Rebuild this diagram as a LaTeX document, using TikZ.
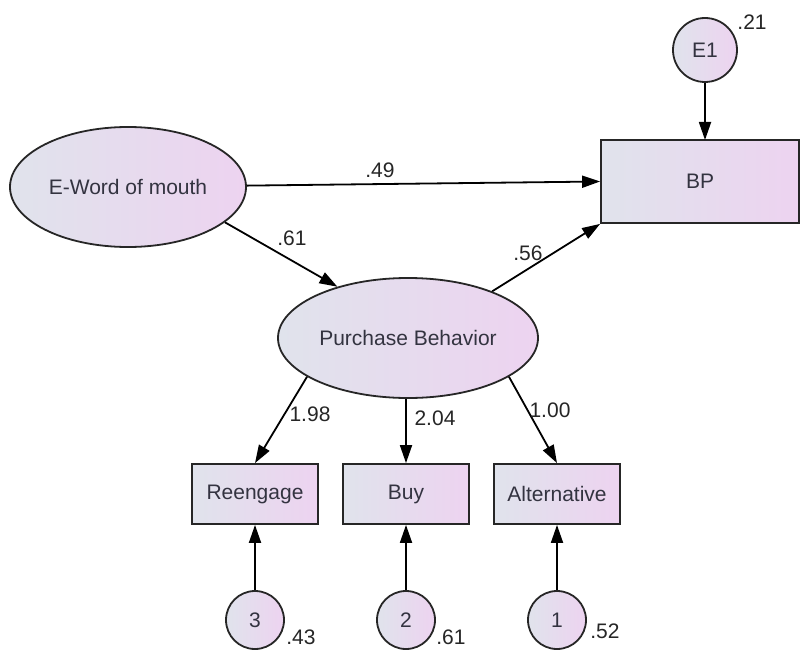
\documentclass[tikz,border=0pt]{standalone}
\usepackage{fontspec}
\setmainfont{Liberation Sans}
\usetikzlibrary{shapes.geometric,arrows.meta}
\definecolor{lc}{HTML}{E0E3EC}
\definecolor{rc}{HTML}{EDD3F0}
\definecolor{tc}{HTML}{333340}
\tikzset{
  grad/.style={draw=black!85, line width=1.8pt, left color=lc, right color=rc, text=tc, font=\fontsize{21}{24}\selectfont},
  latent/.style={grad, ellipse, inner sep=0pt},
  obs/.style={grad, rectangle, inner sep=0pt},
  err/.style={grad, circle, inner sep=0pt, minimum size=60pt},
  path/.style={line width=1.8pt, -{Triangle[length=18pt,width=12pt]}},
  num/.style={font=\fontsize{21}{24}\selectfont, text=black!85, inner sep=0pt}
}
\begin{document}
\begin{tikzpicture}[x=1pt,y=-1pt]
\useasboundingbox[fill=white] (0,0) rectangle (800,650);
\node[latent, minimum width=236pt, minimum height=120pt] (EW) at (128,187) {E-Word of mouth};
\node[obs, minimum width=198pt, minimum height=83pt] (BP) at (700,181.5) {BP};
\node[err, minimum size=64pt] (E1) at (705,50) {E1};
\node[latent, minimum width=260pt, minimum height=120pt] (PB) at (408,338) {Purchase Behavior};
\node[obs, minimum width=126pt, minimum height=60pt] (RE) at (255,494) {Reengage};
\node[obs, minimum width=126pt, minimum height=60pt] (BU) at (406,494) {Buy};
\node[obs, minimum width=126pt, minimum height=60pt] (AL) at (557,494) {Alternative};
\node[err, minimum size=58pt] (C3) at (255,620) {3};
\node[err, minimum size=58pt] (C2) at (406,620) {2};
\node[err, minimum size=58pt] (C1) at (557,620) {1};
\coordinate (BPtop) at (705,140);
\draw[path] (E1) -- (BPtop);
\draw[path] (EW) -- (BP.west);
\draw[path] (EW.340) -- (PB.144);
\draw[path] (PB.29) -- (BP.south west);
\draw[path] (PB.201) -- (RE.north);
\draw[path] (PB.south -| BU.north) -- (BU.north);
\draw[path] (PB.339) -- (AL.north);
\draw[path] (C3) -- (RE);
\draw[path] (C2) -- (BU);
\draw[path] (C1) -- (AL);
\node[num] (l49) at (380,170) {.49};
\node[num] (l61) at (292,238) {.61};
\node[num] (l56) at (528,253) {.56};
\node[num] (l198) at (310,414) {1.98};
\node[num] (l204) at (435,418) {2.04};
\node[num] (l100) at (550,410) {1.00};
\node[num] (l21) at (752,22) {.21};
\node[num] (l43) at (301,637) {.43};
\node[num] (l61b) at (451,637) {.61};
\node[num] (l52) at (605,631) {.52};
\end{tikzpicture}
\end{document}
